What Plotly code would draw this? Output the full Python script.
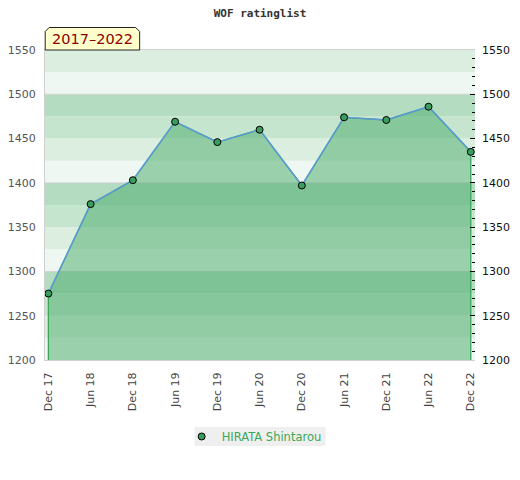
import plotly.graph_objects as go

# ---- data ----
periods = ["Dec 17", "Jun 18", "Dec 18", "Jun 19", "Dec 19", "Jun 20",
           "Dec 20", "Jun 21", "Dec 21", "Jun 22", "Dec 22"]
ratings = [1275, 1376, 1403, 1469, 1446, 1460, 1397, 1474, 1471, 1486, 1435]
player = "HIRATA Shintarou"
title = "WOF ratinglist"
period_label = "2017\u20132022"
y_min, y_max = 1200, 1550
y_labels = [1200, 1250, 1300, 1350, 1400, 1450, 1500, 1550]

xs = list(range(len(periods)))

fig = go.Figure()

# filled polygon (area under line, down to axis base)
fig.add_trace(go.Scatter(
    x=[xs[0]] + xs + [xs[-1]],
    y=[y_min] + ratings + [y_min],
    mode="lines", fill="toself",
    fillcolor="rgba(71,170,106,0.5)",
    line=dict(color="#3aa757", width=1.3),
    hoverinfo="skip", showlegend=False,
))
# line with markers
fig.add_trace(go.Scatter(
    x=xs, y=ratings, mode="lines+markers", name=player, showlegend=False,
    line=dict(color="#5b9bd5", width=1.5),
    marker=dict(color="#3a9d5d", size=7, line=dict(color="black", width=1)),
))
# legend entry (marker only)
fig.add_trace(go.Scatter(
    x=[None], y=[None], mode="markers", name=player,
    marker=dict(color="#3a9d5d", size=7, line=dict(color="black", width=1)),
))
# invisible trace for right axis
fig.add_trace(go.Scatter(x=[xs[0]], y=[y_min], yaxis="y2", mode="markers",
                         marker=dict(opacity=0), showlegend=False, hoverinfo="skip"))

# background bands
band_colors = ["#eef7f1", "#dbeee0", "#c6e5cf", "#b3dcc0"]
shapes = []
v = y_min
while v < y_max:
    shapes.append(dict(type="rect", xref="paper", yref="y", x0=0, x1=1,
                       y0=v, y1=v + 25, fillcolor=band_colors[(v // 25) % 4],
                       line=dict(width=0), layer="below"))
    v += 25
for g in range(y_min + 100, y_max, 100):
    shapes.append(dict(type="line", xref="paper", yref="y", x0=0, x1=1,
                       y0=g, y1=g, line=dict(color="#d2d2d2", width=1),
                       layer="below"))

# pixel -> paper helpers
L, R, T, B = 45.3, 475.5, 50, 360
def px(x):
    return (x - L) / (R - L)
def py(y):
    return (B - y) / (B - T)

# label box with cut top corners
bx0, bx1, by0, by1, c = 45.5, 140, 27.5, 50, 4
path = (f"M {px(bx0)},{py(by1)} L {px(bx0)},{py(by0 + c)} L {px(bx0 + c)},{py(by0)} "
        f"L {px(bx1 - c)},{py(by0)} L {px(bx1)},{py(by0 + c)} L {px(bx1)},{py(by1)} Z")
shapes.append(dict(type="path", xref="paper", yref="paper", path=path,
                   fillcolor="#ffffcc", line=dict(color="#222222", width=1),
                   layer="above"))
# legend background
shapes.append(dict(type="rect", xref="paper", yref="paper",
                   x0=px(195), x1=px(326), y0=py(446), y1=py(427),
                   fillcolor="#efefef", line=dict(width=0), layer="below"))

fig.update_layout(
    width=520, height=480,
    margin=dict(l=45.3, r=44.5, t=50, b=120),
    paper_bgcolor="white", plot_bgcolor="white",
    title=dict(text=title, x=0.5, xanchor="center", y=1 - 13 / 480, yanchor="middle",
               font=dict(family="DejaVu Sans Mono", size=11, color="#333333", weight="bold")),
    shapes=shapes,
    annotations=[dict(text=period_label, xref="paper", yref="paper",
                      x=px((bx0 + bx1) / 2), y=py((by0 + by1) / 2 + 0.5),
                      xanchor="center", yanchor="middle",
                      showarrow=False, font=dict(family="DejaVu Sans", size=14.5, color="#8b0000"))],
    xaxis=dict(range=[-0.08, 10.1], tickvals=xs, ticktext=periods, tickangle=-90,
               showgrid=False, zeroline=False, showline=True, linecolor="#d0d0d0",
               mirror=True, ticks="", ticklabelstandoff=7, automargin=False,
               tickfont=dict(family="DejaVu Sans", size=11, color="#444444")),
    yaxis=dict(range=[y_min, y_max], tickvals=y_labels, showgrid=False, zeroline=False,
               showline=True, linecolor="#d0d0d0", ticks="", ticklabelstandoff=6,
               automargin=False,
               tickfont=dict(family="DejaVu Sans", size=11, color="#555555")),
    yaxis2=dict(range=[y_min, y_max], tickvals=y_labels, overlaying="y", side="right",
                showgrid=False, zeroline=False, showline=False, automargin=False,
                ticks="inside", ticklen=5, tickcolor="black", ticklabelstandoff=6,
                minor=dict(dtick=10, tick0=y_min, ticks="inside", ticklen=3, tickcolor="black"),
                tickfont=dict(family="DejaVu Sans", size=11, color="#111111")),
    legend=dict(orientation="h", x=px(182), xanchor="left", y=py(436.5), yanchor="middle",
                bgcolor="rgba(0,0,0,0)", itemwidth=30,
                font=dict(family="DejaVu Sans", size=11.5, color="#3aa757")),
    showlegend=True,
)

fig.write_html("out.html", config={"displayModeBar": False},
               post_script="document.body.style.margin='0';document.body.style.overflow='hidden';")
